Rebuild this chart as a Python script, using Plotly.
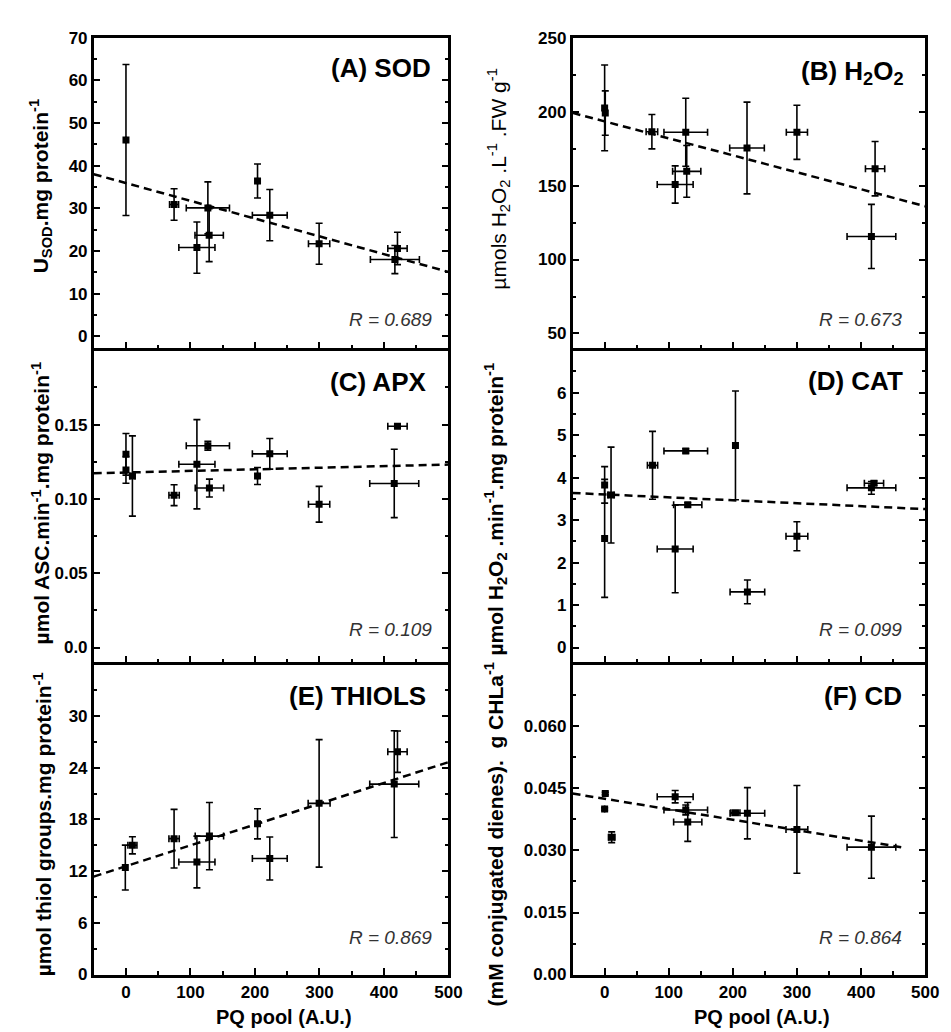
import plotly.graph_objects as go

W, H = 951, 1032
FONT = "Liberation Sans, Arial, sans-serif"

# ---------------- data ----------------
# (A) SOD
a_x  = [0, 74.6, 110, 127, 129, 204, 223, 299.5, 421, 417]
a_y  = [46.0, 30.9, 20.8, 30.1, 23.7, 36.4, 28.4, 21.7, 20.6, 18.0]
a_ey = [17.7, 3.7, 6.0, 6.1, 6.2, 4.0, 6.0, 4.8, 3.8, 3.3]
a_ex = [0, 7, 28, 33.5, 22, 0, 27, 16.5, 15, 38]
a_fit_x = [-50, 500]
a_fit_y = [38.0, 15.1]

# (B) H2O2
b_x  = [0, 1, 73.7, 126.5, 128, 110, 222, 299.8, 421.7, 416]
b_y  = [202.5, 199, 186.4, 186, 159.6, 150.7, 175.4, 186, 161.4, 115.6]
b_ey = [29, 15, 11.6, 23, 17.5, 12.6, 31, 18.3, 18.4, 21.7]
b_ex = [0, 0, 9, 34, 22, 28, 27, 16.5, 15, 38]
b_fit_x = [-50, 500]
b_fit_y = [199.1, 136.0]

# (C) APX
c_x  = [0, 0, 10, 74.6, 110, 127, 129.4, 204, 223, 299.5, 421, 416]
c_y  = [0.130, 0.1195, 0.1154, 0.1025, 0.1233, 0.1358, 0.1073, 0.1154, 0.1303, 0.0964, 0.1489, 0.1104]
c_ey = [0.014, 0.009, 0.027, 0.007, 0.030, 0.003, 0.006, 0.0057, 0.0103, 0.012, 0.001, 0.023]
c_ex = [0, 0, 4, 8, 28, 33.5, 22, 0, 27, 16.5, 15, 38]
c_fit_x = [-50, 500]
c_fit_y = [0.1172, 0.1231]

# (D) CAT
d_x  = [0, 0, 10, 74.7, 126.5, 129.6, 110, 204, 222.6, 299.8, 420, 416]
d_y  = [3.83, 2.57, 3.59, 4.29, 4.63, 3.36, 2.32, 4.76, 1.31, 2.62, 3.87, 3.76]
d_ey = [0.43, 1.39, 1.13, 0.8, 0.05, 0.05, 1.03, 1.28, 0.28, 0.34, 0.05, 0.15]
d_ex = [0, 0, 5, 8, 34, 22, 28, 0, 27, 17, 15, 38]
d_fit_x = [-50, 500]
d_fit_y = [3.64, 3.26]

# (E) THIOLS
e_x  = [-1, 10, 74.6, 110, 129.4, 204, 223, 299.5, 421, 416]
e_y  = [12.42, 15.0, 15.77, 13.06, 16.07, 17.5, 13.47, 19.87, 25.86, 22.1]
e_ey = [2.6, 1.0, 3.4, 3.0, 3.9, 1.75, 2.5, 7.4, 2.4, 6.2]
e_ex = [0, 7, 8, 28, 22, 0, 27, 17, 15, 38]
e_fit_x = [-50, 500]
e_fit_y = [11.37, 24.65]

# (F) CD
f_x  = [1, 0, 11, 110, 126.5, 129.6, 204, 222.6, 299.8, 416]
f_y  = [0.04376, 0.0400, 0.0332, 0.0430, 0.0398, 0.0369, 0.0391, 0.0390, 0.0351, 0.0308]
f_ey = [0.0003, 0.0003, 0.0013, 0.0015, 0.0012, 0.0047, 0.0003, 0.0062, 0.0106, 0.0075]
f_ex = [0, 0, 5, 28, 34, 22, 7, 27, 17, 38]
f_fit_x = [-50, 470]
f_fit_y = [0.04376, 0.0306]

# tick labels
x_ticks = [0, 100, 200, 300, 400, 500]
x_ticktext = ["0", "100", "200", "300", "400", "500"]
a_ticks = [0, 10, 20, 30, 40, 50, 60, 70]
a_ticktext = ["0", "10", "20", "30", "40", "50", "60", "70"]
b_ticks = [50, 100, 150, 200, 250]
b_ticktext = ["50", "100", "150", "200", "250"]
c_ticks = [0.0, 0.05, 0.10, 0.15]
c_ticktext = ["0.0", "0.05", "0.10", "0.15"]
d_ticks = [0, 1, 2, 3, 4, 5, 6]
d_ticktext = ["0", "1", "2", "3", "4", "5", "6"]
e_ticks = [0, 6, 12, 18, 24, 30]
e_ticktext = ["0", "6", "12", "18", "24", "30"]
f_ticks = [0.0, 0.015, 0.030, 0.045, 0.060]
f_ticktext = ["0.00", "0.015", "0.030", "0.045", "0.060"]

panel_labels = ["(A) SOD", "(B) H<sub>2</sub>O<sub>2</sub>", "(C) APX", "(D) CAT", "(E) THIOLS", "(F) CD"]
r_labels = ["R = 0.689", "R = 0.673", "R = 0.109", "R = 0.099", "R = 0.869", "R = 0.864"]
y_titles = [
    "<b>U<sub>SOD</sub>.mg protein<sup>-1</sup></b>",
    "µmols H<sub>2</sub>O<sub>2</sub> .L<sup>-1</sup> .FW g<sup>-1</sup>",
    "<b>µmol ASC.min<sup>-1</sup>.mg protein<sup>-1</sup></b>",
    "<b>µmol H<sub>2</sub>O<sub>2</sub> .min<sup>-1</sup>.mg protein<sup>-1</sup></b>",
    "<b>µmol thiol groups.mg protein<sup>-1</sup></b>",
    "<b>(mM conjugated dienes).  g CHLa<sup>-1</sup></b>",
]
x_title = "PQ pool (A.U.)"

# ---------------- layout geometry ----------------
def px_x(p):
    return p / W

def px_y(p):
    return 1 - p / H

xL = [px_x(87), px_x(447)]
xR = [px_x(573), px_x(931)]
rows = [[px_y(337.5), px_y(21)], [px_y(657.5), px_y(339.5)], [px_y(975.5), px_y(659.5)]]

panels = [
    (a_x, a_y, a_ex, a_ey, a_fit_x, a_fit_y, a_ticks, a_ticktext, [-2.8, 70], 5),
    (b_x, b_y, b_ex, b_ey, b_fit_x, b_fit_y, b_ticks, b_ticktext, [40, 250], 25),
    (c_x, c_y, c_ex, c_ey, c_fit_x, c_fit_y, c_ticks, c_ticktext, [-0.01, 0.2], 0.025),
    (d_x, d_y, d_ex, d_ey, d_fit_x, d_fit_y, d_ticks, d_ticktext, [-0.35, 7], 0.5),
    (e_x, e_y, e_ex, e_ey, e_fit_x, e_fit_y, e_ticks, e_ticktext, [0, 36], 3),
    (f_x, f_y, f_ex, f_ey, f_fit_x, f_fit_y, f_ticks, f_ticktext, [0, 0.075], 0.0075),
]

fig = go.Figure()
layout = dict(
    width=W, height=H,
    margin=dict(l=0, r=0, t=0, b=0),
    paper_bgcolor="white", plot_bgcolor="white",
    showlegend=False,
    font=dict(family=FONT, color="black"),
)

annotations = []
# label positions (px): right edge x, centre y
label_pos = [(431, 52), (911, 57), (426, 372), (910, 371), (426, 692), (909, 692)]
r_pos = [(432, 308), (909, 308), (432, 624), (909, 624), (432, 938), (909, 938)]
yt_pos = [(33, 173), (498, 165), (33, 496), (495, 501), (35, 822), (493, 833)]

for i, (xs, ys, ex, ey, fx, fy, tv, tt, yr, ydt) in enumerate(panels):
    n = i + 1
    row, col = i // 2, i % 2
    xa = "x" if n == 1 else f"x{n}"
    ya = "y" if n == 1 else f"y{n}"
    fig.add_trace(go.Scatter(
        x=fx, y=fy, mode="lines", xaxis=xa, yaxis=ya,
        line=dict(color="black", width=2.5, dash="8px,5px"),
        hoverinfo="skip",
    ))
    fig.add_trace(go.Scatter(
        x=xs, y=ys, mode="markers", xaxis=xa, yaxis=ya,
        marker=dict(symbol="square", size=7, color="black"),
        error_y=dict(type="data", array=ey, visible=True, color="black", thickness=1.6, width=3.5),
        error_x=dict(type="data", array=ex, visible=True, color="black", thickness=1.6, width=3.5),
    ))
    bottom = row == 2
    xkey = "xaxis" if n == 1 else f"xaxis{n}"
    ykey = "yaxis" if n == 1 else f"yaxis{n}"
    layout[xkey] = dict(
        domain=xL if col == 0 else xR, anchor=ya,
        range=[-50, 500], tickmode="array", tickvals=x_ticks, ticktext=x_ticktext,
        showticklabels=bottom, ticks="inside", ticklen=7, tickwidth=2, tickcolor="black",
        minor=dict(dtick=50, tick0=0, ticks="inside", ticklen=4, tickwidth=2, tickcolor="black"),
        showline=True, linewidth=2.5, linecolor="black", mirror=(row == 0),
        showgrid=False, zeroline=False, fixedrange=True,
        tickfont=dict(family=FONT, size=17, color="black", weight="bold"),
    )
    layout[ykey] = dict(
        domain=rows[row], anchor=xa,
        range=yr, tickmode="array", tickvals=tv, ticktext=tt,
        ticks="inside", ticklen=7, tickwidth=2, tickcolor="black",
        minor=dict(dtick=ydt, tick0=0, ticks="inside", ticklen=4, tickwidth=2, tickcolor="black"),
        showline=True, linewidth=2.5, linecolor="black", mirror="ticks",
        showgrid=False, zeroline=False, fixedrange=True,
        tickfont=dict(family=FONT, size=17, color="black", weight="bold"),
    )
    lx, ly = label_pos[i]
    annotations.append(dict(
        x=px_x(lx), y=px_y(ly), xref="paper", yref="paper", xanchor="right", yanchor="middle",
        text="<b>" + panel_labels[i] + "</b>", showarrow=False,
        font=dict(family=FONT, size=26, color="black"),
    ))
    rx, ry = r_pos[i]
    annotations.append(dict(
        x=px_x(rx), y=px_y(ry), xref="paper", yref="paper", xanchor="right", yanchor="middle",
        text="<i>" + r_labels[i] + "</i>", showarrow=False,
        font=dict(family=FONT, size=19, color="#333333"),
    ))
    tx, ty = yt_pos[i]
    annotations.append(dict(
        x=px_x(tx), y=px_y(ty), xref="paper", yref="paper", xanchor="center", yanchor="middle",
        text=y_titles[i], showarrow=False, textangle=-90,
        font=dict(family=FONT, size=21, color="black"),
    ))

for cx in (280, 765):
    annotations.append(dict(
        x=px_x(cx), y=px_y(1019), xref="paper", yref="paper", xanchor="center", yanchor="middle",
        text="<b>" + x_title + "</b>", showarrow=False,
        font=dict(family=FONT, size=20, color="black"),
    ))

layout["annotations"] = annotations
fig.update_layout(**layout)
fig.write_html("out.html")
